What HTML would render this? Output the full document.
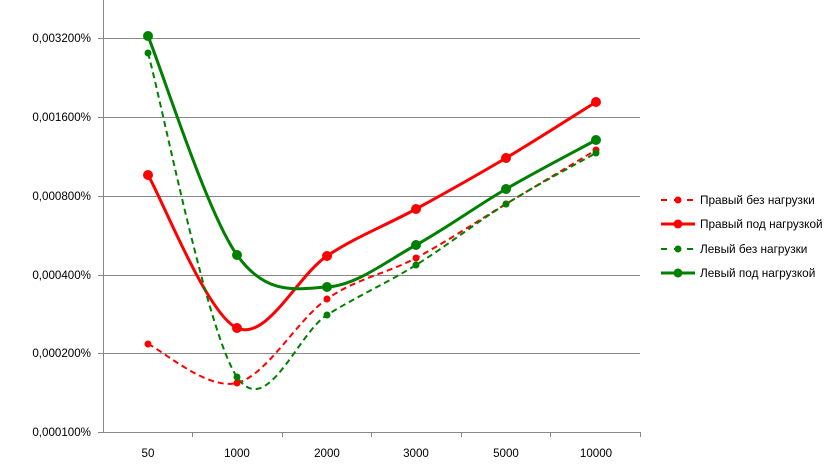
<!DOCTYPE html>
<html><head><meta charset="utf-8"><style>
html,body{margin:0;padding:0;background:#fff;}
svg{display:block;font-family:"Liberation Sans",sans-serif;}
</style></head><body>
<svg width="840" height="473" viewBox="0 0 840 473">
<g stroke="#888" stroke-width="1">
<line x1="103" y1="38.5" x2="640" y2="38.5"/>
<line x1="103" y1="117.5" x2="640" y2="117.5"/>
<line x1="103" y1="196.5" x2="640" y2="196.5"/>
<line x1="103" y1="275.5" x2="640" y2="275.5"/>
<line x1="103" y1="353.5" x2="640" y2="353.5"/>
<line x1="103" y1="432.5" x2="640" y2="432.5"/>
<line x1="103.5" y1="0" x2="103.5" y2="432"/>
<line x1="98" y1="38.5" x2="103" y2="38.5"/><line x1="98" y1="117.5" x2="103" y2="117.5"/><line x1="98" y1="196.5" x2="103" y2="196.5"/><line x1="98" y1="275.5" x2="103" y2="275.5"/><line x1="98" y1="353.5" x2="103" y2="353.5"/><line x1="98" y1="432.5" x2="103" y2="432.5"/>
<line x1="192.5" y1="432" x2="192.5" y2="437"/><line x1="282.5" y1="432" x2="282.5" y2="437"/><line x1="371.5" y1="432" x2="371.5" y2="437"/><line x1="461.5" y1="432" x2="461.5" y2="437"/><line x1="550.5" y1="432" x2="550.5" y2="437"/><line x1="640.5" y1="432" x2="640.5" y2="437"/>
</g>
<g font-size="11.6" fill="#000" text-anchor="end">
<text x="91" y="42">0,003200%</text><text x="91" y="121">0,001600%</text><text x="91" y="200">0,000800%</text><text x="91" y="279">0,000400%</text><text x="91" y="357">0,000200%</text><text x="91" y="436">0,000100%</text>
</g>
<g font-size="11.6" fill="#000" text-anchor="middle">
<text x="148" y="457">50</text><text x="237" y="457">1000</text><text x="327" y="457">2000</text><text x="416" y="457">3000</text><text x="506" y="457">5000</text><text x="596" y="457">10000</text>
</g>
<g fill="none" stroke-width="2">
<path stroke="#ff0000" stroke-dasharray="6,4" d="M148,344 C162.8,350.5 207.2,390.5 237,383 C266.8,375.5 297.2,319.8 327,299 C356.8,278.2 386.2,273.8 416,258 C445.8,242.2 476,222 506,204 C536,186 581,159 596,150"/>
<path stroke="#ff0000" stroke-width="3" d="M148,175 C162.8,200.5 207.2,314.5 237,328 C266.8,341.5 297.2,275.8 327,256 C356.8,236.2 386.2,225.3 416,209 C445.8,192.7 476,175.8 506,158 C536,140.2 581,111.3 596,102"/>
<path stroke="#008000" stroke-dasharray="6,4" d="M148,53 C162.8,107 207.2,333.3 237,377 C266.8,420.7 297.2,333.7 327,315 C356.8,296.3 386.2,283.5 416,265 C445.8,246.5 476,222.7 506,204 C536,185.3 581,161.5 596,153"/>
<path stroke="#008000" stroke-width="3" d="M148,36 C162.8,72.5 207.2,213.2 237,255 C266.8,296.8 297.2,288.7 327,287 C356.8,285.3 386.2,261.3 416,245 C445.8,228.7 476,206.5 506,189 C536,171.5 581,148.2 596,140"/>
</g>
<g fill="#ff0000">
<circle cx="148" cy="344" r="3.5"/><circle cx="237" cy="383" r="3.5"/><circle cx="327" cy="299" r="3.5"/><circle cx="416" cy="258" r="3.5"/><circle cx="506" cy="204" r="3.5"/><circle cx="596" cy="150" r="3.5"/>
<circle cx="148" cy="175" r="5"/><circle cx="237" cy="328" r="5"/><circle cx="327" cy="256" r="5"/><circle cx="416" cy="209" r="5"/><circle cx="506" cy="158" r="5"/><circle cx="596" cy="102" r="5"/>
</g>
<g fill="#008000">
<circle cx="148" cy="53" r="3.5"/><circle cx="237" cy="377" r="3.5"/><circle cx="327" cy="315" r="3.5"/><circle cx="416" cy="265" r="3.5"/><circle cx="506" cy="204" r="3.5"/><circle cx="596" cy="153" r="3.5"/>
<circle cx="148" cy="36" r="5"/><circle cx="237" cy="255" r="5"/><circle cx="327" cy="287" r="5"/><circle cx="416" cy="245" r="5"/><circle cx="506" cy="189" r="5"/><circle cx="596" cy="140" r="5"/>
</g>
<g stroke-width="2">
<line x1="661" y1="200" x2="695" y2="200" stroke="#ff0000" stroke-dasharray="6,7"/><circle cx="678" cy="200" r="3.5" fill="#ff0000"/>
<line x1="661" y1="224" x2="695" y2="224" stroke="#ff0000" stroke-width="3"/><circle cx="678" cy="224" r="4.5" fill="#ff0000"/>
<line x1="661" y1="249" x2="695" y2="249" stroke="#008000" stroke-dasharray="6,7"/><circle cx="678" cy="249" r="3.5" fill="#008000"/>
<line x1="661" y1="273" x2="695" y2="273" stroke="#008000" stroke-width="3"/><circle cx="678" cy="273" r="4.5" fill="#008000"/>
</g>
<g font-size="11.8" fill="#000">
<text x="700" y="204">Правый без нагрузки</text>
<text x="700" y="228">Правый под нагрузкой</text>
<text x="700" y="253">Левый без нагрузки</text>
<text x="700" y="277">Левый под нагрузкой</text>
</g>
</svg>
</body></html>
